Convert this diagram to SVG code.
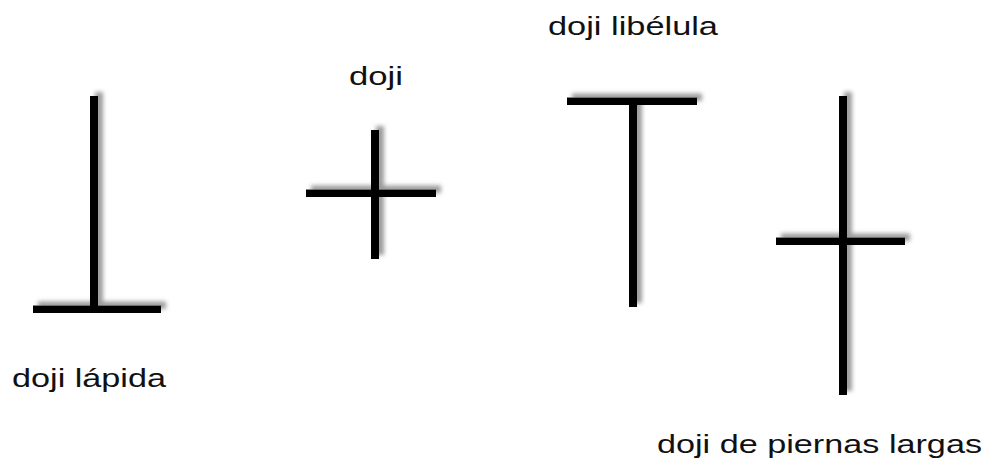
<svg xmlns="http://www.w3.org/2000/svg" width="989" height="461" viewBox="0 0 989 461">
  <style>
    .bar { fill: #000; }
    .lbl { font-family: "Liberation Sans", Arial, sans-serif; font-size: 26px; fill: #111; }
  </style>
  <defs>
    <filter id="sh" filterUnits="userSpaceOnUse" x="0" y="0" width="989" height="461">
      <feOffset in="SourceAlpha" dx="5" dy="-4" result="o"/>
      <feGaussianBlur in="o" stdDeviation="2.2" result="b"/>
      <feFlood flood-color="#8a8a8a" flood-opacity="0.85"/>
      <feComposite in2="b" operator="in" result="s"/>
      <feMerge>
        <feMergeNode in="s"/>
        <feMergeNode in="SourceGraphic"/>
      </feMerge>
    </filter>
  </defs>
  <rect width="989" height="461" fill="#fff"/>

  <g id="doji-lapida">
    <g filter="url(#sh)">
      <rect class="bar" x="90" y="96" width="8" height="214"/>
      <rect class="bar" x="33" y="305.5" width="128" height="7.5"/>
    </g>
    <text class="lbl" x="12" y="387" textLength="154" lengthAdjust="spacingAndGlyphs">doji lápida</text>
  </g>

  <g id="doji">
    <g filter="url(#sh)">
      <rect class="bar" x="371" y="130" width="8" height="129"/>
      <rect class="bar" x="306" y="189.5" width="130" height="7.5"/>
    </g>
    <text class="lbl" x="349" y="85" textLength="54" lengthAdjust="spacingAndGlyphs">doji</text>
  </g>

  <g id="doji-libelula">
    <g filter="url(#sh)">
      <rect class="bar" x="629" y="98" width="8" height="209"/>
      <rect class="bar" x="567" y="97.5" width="130" height="7.5"/>
    </g>
    <text class="lbl" x="548" y="35" textLength="170" lengthAdjust="spacingAndGlyphs">doji libélula</text>
  </g>

  <g id="doji-piernas-largas">
    <g filter="url(#sh)">
      <rect class="bar" x="839" y="96" width="8" height="299"/>
      <rect class="bar" x="776" y="237.5" width="129" height="7.5"/>
    </g>
    <text class="lbl" x="657" y="453" textLength="325" lengthAdjust="spacingAndGlyphs">doji de piernas largas</text>
  </g>

  <g id="connectors"/>
</svg>
